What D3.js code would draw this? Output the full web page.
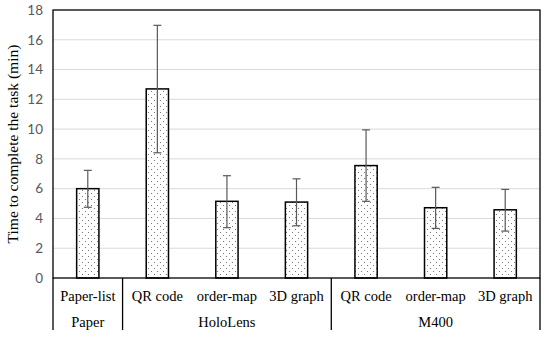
<!DOCTYPE html>
<html>
<head>
<meta charset="utf-8">
<script src="https://cdn.jsdelivr.net/npm/d3@7"></script>
<style>
  body { margin: 0; background: #fff; }
  svg { display: block; }
  .serif { font-family: 'Liberation Serif', 'Times New Roman', serif; }
  .sans { font-family: Lato, 'Open Sans', sans-serif; }
</style>
</head>
<body>
<div id="app"></div>
<script>
// data
const categories = ['Paper-list', 'QR code', 'order-map', '3D graph', 'QR code', 'order-map', '3D graph']
const groups = [
  {name: 'Paper', from: 0, to: 1},
  {name: 'HoloLens', from: 1, to: 4},
  {name: 'M400', from: 4, to: 7}
]
const means = [6.0, 12.7, 5.15, 5.1, 7.55, 4.72, 4.58]
const errHigh = [7.23, 16.97, 6.87, 6.66, 9.95, 6.09, 5.95]
const errLow = [4.75, 8.41, 3.38, 3.51, 5.15, 3.33, 3.15]
const yTicks = [0, 2, 4, 6, 8, 10, 12, 14, 16, 18]

const w = 550, h = 339
const padLeft = 53, padRight = 540, padTop = 10, padBottom = 278

const svg = d3.select('#app').append('svg')
  .attr('width', w)
  .attr('height', h)

// dotted fill
const pat = svg.append('defs').append('pattern')
  .attr('id', 'dots')
  .attr('patternUnits', 'userSpaceOnUse')
  .attr('width', 6).attr('height', 6)
pat.append('rect').attr('width', 6).attr('height', 6).attr('fill', '#fff')
pat.append('rect').attr('x', 1).attr('y', 1).attr('width', 1).attr('height', 1).attr('fill', '#777')
pat.append('rect').attr('x', 4).attr('y', 4).attr('width', 1).attr('height', 1).attr('fill', '#777')

const x = d3.scaleBand()
  .domain(d3.range(categories.length))
  .range([padLeft, padRight])
  .paddingInner(0.68)
  .paddingOuter(0.34)

const y = d3.scaleLinear()
  .domain([0, 18])
  .range([padBottom, padTop])

// gridlines
svg.append('g')
  .selectAll('line')
  .data(yTicks.filter(d => d > 0 && d < 18))
  .enter().append('line')
  .attr('x1', padLeft).attr('x2', padRight)
  .attr('y1', d => y(d)).attr('y2', d => y(d))
  .attr('stroke', '#d9d9d9')
  .attr('stroke-width', 1)

// y axis tick labels
const yAxis = d3.axisLeft(y).tickValues(yTicks).tickSize(0).tickPadding(10)
const gy = svg.append('g')
  .attr('transform', 'translate(' + padLeft + ',0)')
  .call(yAxis)
  .attr('font-family', null)
  .attr('class', 'sans')
gy.select('.domain').remove()
gy.selectAll('text')
  .style('font-size', '13.5px')
  .attr('fill', '#595959')

// bars
svg.append('g')
  .selectAll('rect')
  .data(means)
  .enter().append('rect')
  .attr('x', (d, i) => x(i))
  .attr('y', d => y(d))
  .attr('width', x.bandwidth())
  .attr('height', d => y(0) - y(d))
  .attr('fill', 'url(#dots)')
  .attr('stroke', '#000')
  .attr('stroke-width', 1.5)

// error bars
const eb = svg.append('g')
  .attr('stroke', '#595959')
  .attr('stroke-width', 1.2)
  .selectAll('g')
  .data(means)
  .enter().append('g')
eb.append('line')
  .attr('x1', (d, i) => x(i) + x.bandwidth() / 2)
  .attr('x2', (d, i) => x(i) + x.bandwidth() / 2)
  .attr('y1', (d, i) => y(errHigh[i]))
  .attr('y2', (d, i) => y(errLow[i]))
eb.append('line')
  .attr('x1', (d, i) => x(i) + x.bandwidth() / 2 - 4)
  .attr('x2', (d, i) => x(i) + x.bandwidth() / 2 + 4)
  .attr('y1', (d, i) => y(errHigh[i]))
  .attr('y2', (d, i) => y(errHigh[i]))
eb.append('line')
  .attr('x1', (d, i) => x(i) + x.bandwidth() / 2 - 4)
  .attr('x2', (d, i) => x(i) + x.bandwidth() / 2 + 4)
  .attr('y1', (d, i) => y(errLow[i]))
  .attr('y2', (d, i) => y(errLow[i]))

// plot border
svg.append('rect')
  .attr('x', padLeft).attr('y', padTop)
  .attr('width', padRight - padLeft).attr('height', padBottom - padTop)
  .attr('fill', 'none')
  .attr('stroke', '#000')
  .attr('stroke-width', 1.3)

// category axis
const step = x.step()
const xAt = i => padLeft + i * step
svg.append('g')
  .attr('class', 'serif')
  .selectAll('text')
  .data(categories)
  .enter().append('text')
  .attr('x', (d, i) => x(i) + x.bandwidth() / 2)
  .attr('y', 301)
  .attr('text-anchor', 'middle')
  .style('font-size', '14.5px')
  .text(d => d)

svg.append('g')
  .attr('class', 'serif')
  .selectAll('text')
  .data(groups)
  .enter().append('text')
  .attr('x', d => (xAt(d.from) + xAt(d.to)) / 2)
  .attr('y', 327)
  .attr('text-anchor', 'middle')
  .style('font-size', '14.5px')
  .text(d => d.name)

// separators
const seps = [0].concat(groups.map(g => g.to))
svg.append('g')
  .selectAll('line')
  .data(seps)
  .enter().append('line')
  .attr('x1', d => xAt(d)).attr('x2', d => xAt(d))
  .attr('y1', padBottom).attr('y2', 330)
  .attr('stroke', '#000')
  .attr('stroke-width', 1.3)

// y title
svg.append('text')
  .attr('class', 'serif')
  .attr('text-anchor', 'middle')
  .attr('transform', 'translate(18,' + ((padTop + padBottom) / 2) + ') rotate(-90)')
  .style('font-size', '15.5px')
  .text('Time to complete the task (min)')
</script>
</body>
</html>
